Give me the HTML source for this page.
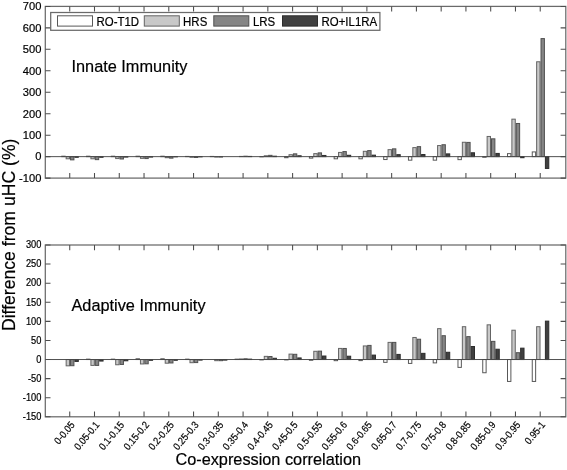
<!DOCTYPE html><html><head><meta charset="utf-8"><style>html,body{margin:0;padding:0;background:#fff;overflow:hidden}svg{display:block;filter:grayscale(1)}text{font-family:"Liberation Sans",sans-serif;fill:#000}</style></head><body>
<svg width="567" height="470" viewBox="0 0 567 470">
<rect width="567" height="470" fill="#fff"/>
<rect x="61.78" y="156.21" width="3.38" height="0.43" fill="#ffffff" stroke="#585858" stroke-width="1"/>
<rect x="66.16" y="156.64" width="3.38" height="2.15" fill="#c8c8c8" stroke="#646464" stroke-width="1"/>
<rect x="70.54" y="156.64" width="3.38" height="3.22" fill="#858585" stroke="#505050" stroke-width="1"/>
<rect x="74.92" y="156.64" width="3.38" height="0.64" fill="#404040" stroke="#2c2c2c" stroke-width="1"/>
<rect x="86.54" y="156.21" width="3.38" height="0.43" fill="#ffffff" stroke="#585858" stroke-width="1"/>
<rect x="90.92" y="156.64" width="3.38" height="2.15" fill="#c8c8c8" stroke="#646464" stroke-width="1"/>
<rect x="95.30" y="156.64" width="3.38" height="3.00" fill="#858585" stroke="#505050" stroke-width="1"/>
<rect x="99.68" y="156.64" width="3.38" height="0.64" fill="#404040" stroke="#2c2c2c" stroke-width="1"/>
<rect x="111.31" y="156.21" width="3.38" height="0.43" fill="#ffffff" stroke="#585858" stroke-width="1"/>
<rect x="115.69" y="156.64" width="3.38" height="1.93" fill="#c8c8c8" stroke="#646464" stroke-width="1"/>
<rect x="120.07" y="156.64" width="3.38" height="2.36" fill="#858585" stroke="#505050" stroke-width="1"/>
<rect x="124.45" y="156.64" width="3.38" height="0.43" fill="#404040" stroke="#2c2c2c" stroke-width="1"/>
<rect x="136.07" y="156.21" width="3.38" height="0.43" fill="#ffffff" stroke="#585858" stroke-width="1"/>
<rect x="140.45" y="156.64" width="3.38" height="1.72" fill="#c8c8c8" stroke="#646464" stroke-width="1"/>
<rect x="144.83" y="156.64" width="3.38" height="1.93" fill="#858585" stroke="#505050" stroke-width="1"/>
<rect x="149.21" y="156.64" width="3.38" height="0.43" fill="#404040" stroke="#2c2c2c" stroke-width="1"/>
<rect x="160.83" y="156.21" width="3.38" height="0.43" fill="#ffffff" stroke="#585858" stroke-width="1"/>
<rect x="165.21" y="156.64" width="3.38" height="1.07" fill="#c8c8c8" stroke="#646464" stroke-width="1"/>
<rect x="169.59" y="156.64" width="3.38" height="1.50" fill="#858585" stroke="#505050" stroke-width="1"/>
<rect x="173.97" y="156.64" width="3.38" height="0.21" fill="#404040" stroke="#2c2c2c" stroke-width="1"/>
<rect x="185.59" y="156.42" width="3.38" height="0.21" fill="#ffffff" stroke="#585858" stroke-width="1"/>
<rect x="189.97" y="156.64" width="3.38" height="0.64" fill="#c8c8c8" stroke="#646464" stroke-width="1"/>
<rect x="194.35" y="156.64" width="3.38" height="0.86" fill="#858585" stroke="#505050" stroke-width="1"/>
<rect x="198.73" y="156.64" width="3.38" height="0.21" fill="#404040" stroke="#2c2c2c" stroke-width="1"/>
<rect x="210.35" y="156.42" width="3.38" height="0.21" fill="#ffffff" stroke="#585858" stroke-width="1"/>
<rect x="214.73" y="156.64" width="3.38" height="0.43" fill="#c8c8c8" stroke="#646464" stroke-width="1"/>
<rect x="219.11" y="156.64" width="3.38" height="0.43" fill="#858585" stroke="#505050" stroke-width="1"/>
<rect x="239.50" y="156.42" width="3.38" height="0.21" fill="#c8c8c8" stroke="#646464" stroke-width="1"/>
<rect x="243.88" y="156.21" width="3.38" height="0.43" fill="#858585" stroke="#505050" stroke-width="1"/>
<rect x="248.26" y="156.42" width="3.38" height="0.21" fill="#404040" stroke="#2c2c2c" stroke-width="1"/>
<rect x="259.88" y="156.64" width="3.38" height="0.21" fill="#ffffff" stroke="#585858" stroke-width="1"/>
<rect x="264.26" y="155.78" width="3.38" height="0.86" fill="#c8c8c8" stroke="#646464" stroke-width="1"/>
<rect x="268.64" y="155.35" width="3.38" height="1.29" fill="#858585" stroke="#505050" stroke-width="1"/>
<rect x="273.02" y="156.21" width="3.38" height="0.43" fill="#404040" stroke="#2c2c2c" stroke-width="1"/>
<rect x="284.64" y="156.64" width="3.38" height="1.07" fill="#ffffff" stroke="#585858" stroke-width="1"/>
<rect x="289.02" y="154.71" width="3.38" height="1.93" fill="#c8c8c8" stroke="#646464" stroke-width="1"/>
<rect x="293.40" y="153.85" width="3.38" height="2.79" fill="#858585" stroke="#505050" stroke-width="1"/>
<rect x="297.78" y="155.78" width="3.38" height="0.86" fill="#404040" stroke="#2c2c2c" stroke-width="1"/>
<rect x="309.40" y="156.64" width="3.38" height="1.50" fill="#ffffff" stroke="#585858" stroke-width="1"/>
<rect x="313.78" y="153.63" width="3.38" height="3.00" fill="#c8c8c8" stroke="#646464" stroke-width="1"/>
<rect x="318.16" y="152.88" width="3.38" height="3.76" fill="#858585" stroke="#505050" stroke-width="1"/>
<rect x="322.54" y="155.46" width="3.38" height="1.18" fill="#404040" stroke="#2c2c2c" stroke-width="1"/>
<rect x="334.16" y="156.64" width="3.38" height="2.15" fill="#ffffff" stroke="#585858" stroke-width="1"/>
<rect x="338.54" y="152.43" width="3.38" height="4.21" fill="#c8c8c8" stroke="#646464" stroke-width="1"/>
<rect x="342.92" y="151.57" width="3.38" height="5.07" fill="#858585" stroke="#505050" stroke-width="1"/>
<rect x="347.30" y="155.29" width="3.38" height="1.35" fill="#404040" stroke="#2c2c2c" stroke-width="1"/>
<rect x="358.93" y="156.64" width="3.38" height="2.15" fill="#ffffff" stroke="#585858" stroke-width="1"/>
<rect x="363.31" y="151.31" width="3.38" height="5.32" fill="#c8c8c8" stroke="#646464" stroke-width="1"/>
<rect x="367.69" y="150.59" width="3.38" height="6.05" fill="#858585" stroke="#505050" stroke-width="1"/>
<rect x="372.07" y="155.16" width="3.38" height="1.48" fill="#404040" stroke="#2c2c2c" stroke-width="1"/>
<rect x="383.69" y="156.64" width="3.38" height="2.90" fill="#ffffff" stroke="#585858" stroke-width="1"/>
<rect x="388.07" y="149.66" width="3.38" height="6.98" fill="#c8c8c8" stroke="#646464" stroke-width="1"/>
<rect x="392.45" y="148.85" width="3.38" height="7.79" fill="#858585" stroke="#505050" stroke-width="1"/>
<rect x="396.83" y="154.66" width="3.38" height="1.97" fill="#404040" stroke="#2c2c2c" stroke-width="1"/>
<rect x="408.45" y="156.64" width="3.38" height="3.54" fill="#ffffff" stroke="#585858" stroke-width="1"/>
<rect x="412.83" y="147.62" width="3.38" height="9.01" fill="#c8c8c8" stroke="#646464" stroke-width="1"/>
<rect x="417.21" y="146.64" width="3.38" height="10.00" fill="#858585" stroke="#505050" stroke-width="1"/>
<rect x="421.59" y="154.53" width="3.38" height="2.10" fill="#404040" stroke="#2c2c2c" stroke-width="1"/>
<rect x="433.21" y="156.64" width="3.38" height="3.54" fill="#ffffff" stroke="#585858" stroke-width="1"/>
<rect x="437.59" y="145.56" width="3.38" height="11.07" fill="#c8c8c8" stroke="#646464" stroke-width="1"/>
<rect x="441.97" y="144.73" width="3.38" height="11.91" fill="#858585" stroke="#505050" stroke-width="1"/>
<rect x="446.35" y="153.89" width="3.38" height="2.75" fill="#404040" stroke="#2c2c2c" stroke-width="1"/>
<rect x="457.97" y="156.64" width="3.38" height="3.00" fill="#ffffff" stroke="#585858" stroke-width="1"/>
<rect x="462.35" y="142.26" width="3.38" height="14.38" fill="#c8c8c8" stroke="#646464" stroke-width="1"/>
<rect x="466.73" y="142.41" width="3.38" height="14.23" fill="#858585" stroke="#505050" stroke-width="1"/>
<rect x="471.11" y="152.77" width="3.38" height="3.86" fill="#404040" stroke="#2c2c2c" stroke-width="1"/>
<rect x="482.74" y="156.64" width="3.38" height="0.64" fill="#ffffff" stroke="#585858" stroke-width="1"/>
<rect x="487.12" y="136.46" width="3.38" height="20.17" fill="#c8c8c8" stroke="#646464" stroke-width="1"/>
<rect x="491.50" y="138.82" width="3.38" height="17.81" fill="#858585" stroke="#505050" stroke-width="1"/>
<rect x="495.88" y="153.42" width="3.38" height="3.22" fill="#404040" stroke="#2c2c2c" stroke-width="1"/>
<rect x="507.50" y="153.63" width="3.38" height="3.00" fill="#ffffff" stroke="#585858" stroke-width="1"/>
<rect x="511.88" y="119.16" width="3.38" height="37.47" fill="#c8c8c8" stroke="#646464" stroke-width="1"/>
<rect x="516.26" y="123.48" width="3.38" height="33.16" fill="#858585" stroke="#505050" stroke-width="1"/>
<rect x="520.64" y="156.64" width="3.38" height="1.07" fill="#404040" stroke="#2c2c2c" stroke-width="1"/>
<rect x="532.26" y="151.92" width="3.38" height="4.72" fill="#ffffff" stroke="#585858" stroke-width="1"/>
<rect x="536.64" y="61.77" width="3.38" height="94.86" fill="#c8c8c8" stroke="#646464" stroke-width="1"/>
<rect x="541.02" y="38.59" width="3.38" height="118.04" fill="#858585" stroke="#505050" stroke-width="1"/>
<rect x="545.40" y="156.64" width="3.38" height="11.80" fill="#404040" stroke="#2c2c2c" stroke-width="1"/>
<line x1="45.3" y1="156.64" x2="565.8" y2="156.64" stroke="#484848" stroke-width="0.95"/>
<rect x="45.3" y="6.4" width="520.50" height="171.70" fill="none" stroke="#6a6a6a" stroke-width="1.25"/>
<text transform="translate(41.40,181.94) rotate(0) scale(0.97,1)" font-size="11.5" text-anchor="end" stroke="#000" stroke-width="0.2">-100</text>
<text transform="translate(41.40,160.48) rotate(0) scale(0.97,1)" font-size="11.5" text-anchor="end" stroke="#000" stroke-width="0.2">0</text>
<text transform="translate(41.40,139.01) rotate(0) scale(0.97,1)" font-size="11.5" text-anchor="end" stroke="#000" stroke-width="0.2">100</text>
<text transform="translate(41.40,117.55) rotate(0) scale(0.97,1)" font-size="11.5" text-anchor="end" stroke="#000" stroke-width="0.2">200</text>
<text transform="translate(41.40,96.09) rotate(0) scale(0.97,1)" font-size="11.5" text-anchor="end" stroke="#000" stroke-width="0.2">300</text>
<text transform="translate(41.40,74.63) rotate(0) scale(0.97,1)" font-size="11.5" text-anchor="end" stroke="#000" stroke-width="0.2">400</text>
<text transform="translate(41.40,53.17) rotate(0) scale(0.97,1)" font-size="11.5" text-anchor="end" stroke="#000" stroke-width="0.2">500</text>
<text transform="translate(41.40,31.70) rotate(0) scale(0.97,1)" font-size="11.5" text-anchor="end" stroke="#000" stroke-width="0.2">600</text>
<text transform="translate(41.40,10.24) rotate(0) scale(0.97,1)" font-size="11.5" text-anchor="end" stroke="#000" stroke-width="0.2">700</text>
<path d="M69.74 6.4v5.2M69.74 178.1v-5.2M94.50 6.4v5.2M94.50 178.1v-5.2M119.27 6.4v5.2M119.27 178.1v-5.2M144.03 6.4v5.2M144.03 178.1v-5.2M168.79 6.4v5.2M168.79 178.1v-5.2M193.55 6.4v5.2M193.55 178.1v-5.2M218.31 6.4v5.2M218.31 178.1v-5.2M243.08 6.4v5.2M243.08 178.1v-5.2M267.84 6.4v5.2M267.84 178.1v-5.2M292.60 6.4v5.2M292.60 178.1v-5.2M317.36 6.4v5.2M317.36 178.1v-5.2M342.12 6.4v5.2M342.12 178.1v-5.2M366.89 6.4v5.2M366.89 178.1v-5.2M391.65 6.4v5.2M391.65 178.1v-5.2M416.41 6.4v5.2M416.41 178.1v-5.2M441.17 6.4v5.2M441.17 178.1v-5.2M465.93 6.4v5.2M465.93 178.1v-5.2M490.70 6.4v5.2M490.70 178.1v-5.2M515.46 6.4v5.2M515.46 178.1v-5.2M540.22 6.4v5.2M540.22 178.1v-5.2M45.3 178.10h5.2M565.8 178.10h-5.2M45.3 156.64h5.2M565.8 156.64h-5.2M45.3 135.18h5.2M565.8 135.18h-5.2M45.3 113.71h5.2M565.8 113.71h-5.2M45.3 92.25h5.2M565.8 92.25h-5.2M45.3 70.79h5.2M565.8 70.79h-5.2M45.3 49.33h5.2M565.8 49.33h-5.2M45.3 27.86h5.2M565.8 27.86h-5.2M45.3 6.40h5.2M565.8 6.40h-5.2" stroke="#4c4c4c" stroke-width="1.05" fill="none"/>
<rect x="66.16" y="359.53" width="3.38" height="6.30" fill="#c8c8c8" stroke="#646464" stroke-width="1"/>
<rect x="70.54" y="359.53" width="3.38" height="6.18" fill="#858585" stroke="#505050" stroke-width="1"/>
<rect x="74.92" y="359.53" width="3.38" height="1.91" fill="#404040" stroke="#2c2c2c" stroke-width="1"/>
<rect x="86.54" y="359.15" width="3.38" height="0.38" fill="#ffffff" stroke="#585858" stroke-width="1"/>
<rect x="90.92" y="359.53" width="3.38" height="5.88" fill="#c8c8c8" stroke="#646464" stroke-width="1"/>
<rect x="95.30" y="359.53" width="3.38" height="5.88" fill="#858585" stroke="#505050" stroke-width="1"/>
<rect x="99.68" y="359.53" width="3.38" height="1.53" fill="#404040" stroke="#2c2c2c" stroke-width="1"/>
<rect x="111.31" y="359.15" width="3.38" height="0.38" fill="#ffffff" stroke="#585858" stroke-width="1"/>
<rect x="115.69" y="359.53" width="3.38" height="5.23" fill="#c8c8c8" stroke="#646464" stroke-width="1"/>
<rect x="120.07" y="359.53" width="3.38" height="4.92" fill="#858585" stroke="#505050" stroke-width="1"/>
<rect x="124.45" y="359.53" width="3.38" height="1.26" fill="#404040" stroke="#2c2c2c" stroke-width="1"/>
<rect x="136.07" y="358.77" width="3.38" height="0.76" fill="#ffffff" stroke="#585858" stroke-width="1"/>
<rect x="140.45" y="359.53" width="3.38" height="4.43" fill="#c8c8c8" stroke="#646464" stroke-width="1"/>
<rect x="144.83" y="359.53" width="3.38" height="4.28" fill="#858585" stroke="#505050" stroke-width="1"/>
<rect x="149.21" y="359.53" width="3.38" height="0.76" fill="#404040" stroke="#2c2c2c" stroke-width="1"/>
<rect x="160.83" y="358.77" width="3.38" height="0.76" fill="#ffffff" stroke="#585858" stroke-width="1"/>
<rect x="165.21" y="359.53" width="3.38" height="3.67" fill="#c8c8c8" stroke="#646464" stroke-width="1"/>
<rect x="169.59" y="359.53" width="3.38" height="3.44" fill="#858585" stroke="#505050" stroke-width="1"/>
<rect x="173.97" y="359.53" width="3.38" height="0.76" fill="#404040" stroke="#2c2c2c" stroke-width="1"/>
<rect x="185.59" y="359.15" width="3.38" height="0.38" fill="#ffffff" stroke="#585858" stroke-width="1"/>
<rect x="189.97" y="359.53" width="3.38" height="3.17" fill="#c8c8c8" stroke="#646464" stroke-width="1"/>
<rect x="194.35" y="359.53" width="3.38" height="3.05" fill="#858585" stroke="#505050" stroke-width="1"/>
<rect x="198.73" y="359.53" width="3.38" height="0.57" fill="#404040" stroke="#2c2c2c" stroke-width="1"/>
<rect x="214.73" y="359.53" width="3.38" height="1.15" fill="#c8c8c8" stroke="#646464" stroke-width="1"/>
<rect x="219.11" y="359.53" width="3.38" height="1.15" fill="#858585" stroke="#505050" stroke-width="1"/>
<rect x="223.49" y="359.53" width="3.38" height="0.57" fill="#404040" stroke="#2c2c2c" stroke-width="1"/>
<rect x="235.12" y="359.15" width="3.38" height="0.38" fill="#ffffff" stroke="#585858" stroke-width="1"/>
<rect x="239.50" y="358.96" width="3.38" height="0.57" fill="#c8c8c8" stroke="#646464" stroke-width="1"/>
<rect x="243.88" y="358.77" width="3.38" height="0.76" fill="#858585" stroke="#505050" stroke-width="1"/>
<rect x="248.26" y="359.15" width="3.38" height="0.38" fill="#404040" stroke="#2c2c2c" stroke-width="1"/>
<rect x="259.88" y="359.53" width="3.38" height="0.38" fill="#ffffff" stroke="#585858" stroke-width="1"/>
<rect x="264.26" y="356.36" width="3.38" height="3.17" fill="#c8c8c8" stroke="#646464" stroke-width="1"/>
<rect x="268.64" y="356.52" width="3.38" height="3.02" fill="#858585" stroke="#505050" stroke-width="1"/>
<rect x="273.02" y="358.27" width="3.38" height="1.26" fill="#404040" stroke="#2c2c2c" stroke-width="1"/>
<rect x="284.64" y="359.53" width="3.38" height="0.38" fill="#ffffff" stroke="#585858" stroke-width="1"/>
<rect x="289.02" y="354.11" width="3.38" height="5.42" fill="#c8c8c8" stroke="#646464" stroke-width="1"/>
<rect x="293.40" y="354.30" width="3.38" height="5.23" fill="#858585" stroke="#505050" stroke-width="1"/>
<rect x="297.78" y="357.93" width="3.38" height="1.60" fill="#404040" stroke="#2c2c2c" stroke-width="1"/>
<rect x="309.40" y="359.53" width="3.38" height="0.76" fill="#ffffff" stroke="#585858" stroke-width="1"/>
<rect x="313.78" y="351.29" width="3.38" height="8.25" fill="#c8c8c8" stroke="#646464" stroke-width="1"/>
<rect x="318.16" y="351.13" width="3.38" height="8.40" fill="#858585" stroke="#505050" stroke-width="1"/>
<rect x="322.54" y="356.02" width="3.38" height="3.51" fill="#404040" stroke="#2c2c2c" stroke-width="1"/>
<rect x="334.16" y="359.53" width="3.38" height="1.15" fill="#ffffff" stroke="#585858" stroke-width="1"/>
<rect x="338.54" y="348.42" width="3.38" height="11.11" fill="#c8c8c8" stroke="#646464" stroke-width="1"/>
<rect x="342.92" y="348.46" width="3.38" height="11.07" fill="#858585" stroke="#505050" stroke-width="1"/>
<rect x="347.30" y="356.21" width="3.38" height="3.32" fill="#404040" stroke="#2c2c2c" stroke-width="1"/>
<rect x="358.93" y="359.53" width="3.38" height="1.07" fill="#ffffff" stroke="#585858" stroke-width="1"/>
<rect x="363.31" y="345.94" width="3.38" height="13.59" fill="#c8c8c8" stroke="#646464" stroke-width="1"/>
<rect x="367.69" y="345.41" width="3.38" height="14.13" fill="#858585" stroke="#505050" stroke-width="1"/>
<rect x="372.07" y="355.10" width="3.38" height="4.43" fill="#404040" stroke="#2c2c2c" stroke-width="1"/>
<rect x="383.69" y="359.53" width="3.38" height="2.83" fill="#ffffff" stroke="#585858" stroke-width="1"/>
<rect x="388.07" y="342.39" width="3.38" height="17.14" fill="#c8c8c8" stroke="#646464" stroke-width="1"/>
<rect x="392.45" y="342.39" width="3.38" height="17.14" fill="#858585" stroke="#505050" stroke-width="1"/>
<rect x="396.83" y="354.42" width="3.38" height="5.12" fill="#404040" stroke="#2c2c2c" stroke-width="1"/>
<rect x="408.45" y="359.53" width="3.38" height="3.89" fill="#ffffff" stroke="#585858" stroke-width="1"/>
<rect x="412.83" y="337.47" width="3.38" height="22.07" fill="#c8c8c8" stroke="#646464" stroke-width="1"/>
<rect x="417.21" y="339.22" width="3.38" height="20.31" fill="#858585" stroke="#505050" stroke-width="1"/>
<rect x="421.59" y="353.35" width="3.38" height="6.18" fill="#404040" stroke="#2c2c2c" stroke-width="1"/>
<rect x="433.21" y="359.53" width="3.38" height="3.36" fill="#ffffff" stroke="#585858" stroke-width="1"/>
<rect x="437.59" y="328.65" width="3.38" height="30.89" fill="#c8c8c8" stroke="#646464" stroke-width="1"/>
<rect x="441.97" y="335.71" width="3.38" height="23.82" fill="#858585" stroke="#505050" stroke-width="1"/>
<rect x="446.35" y="352.28" width="3.38" height="7.25" fill="#404040" stroke="#2c2c2c" stroke-width="1"/>
<rect x="457.97" y="359.53" width="3.38" height="7.86" fill="#ffffff" stroke="#585858" stroke-width="1"/>
<rect x="462.35" y="326.70" width="3.38" height="32.83" fill="#c8c8c8" stroke="#646464" stroke-width="1"/>
<rect x="466.73" y="336.63" width="3.38" height="22.91" fill="#858585" stroke="#505050" stroke-width="1"/>
<rect x="471.11" y="346.51" width="3.38" height="13.02" fill="#404040" stroke="#2c2c2c" stroke-width="1"/>
<rect x="482.74" y="359.53" width="3.38" height="13.21" fill="#ffffff" stroke="#585858" stroke-width="1"/>
<rect x="487.12" y="324.83" width="3.38" height="34.70" fill="#c8c8c8" stroke="#646464" stroke-width="1"/>
<rect x="491.50" y="341.36" width="3.38" height="18.17" fill="#858585" stroke="#505050" stroke-width="1"/>
<rect x="495.88" y="349.23" width="3.38" height="10.31" fill="#404040" stroke="#2c2c2c" stroke-width="1"/>
<rect x="507.50" y="359.53" width="3.38" height="21.91" fill="#ffffff" stroke="#585858" stroke-width="1"/>
<rect x="511.88" y="330.21" width="3.38" height="29.32" fill="#c8c8c8" stroke="#646464" stroke-width="1"/>
<rect x="516.26" y="352.70" width="3.38" height="6.83" fill="#858585" stroke="#505050" stroke-width="1"/>
<rect x="520.64" y="348.16" width="3.38" height="11.38" fill="#404040" stroke="#2c2c2c" stroke-width="1"/>
<rect x="532.26" y="359.53" width="3.38" height="21.91" fill="#ffffff" stroke="#585858" stroke-width="1"/>
<rect x="536.64" y="326.70" width="3.38" height="32.83" fill="#c8c8c8" stroke="#646464" stroke-width="1"/>
<rect x="545.40" y="321.13" width="3.38" height="38.41" fill="#404040" stroke="#2c2c2c" stroke-width="1"/>
<line x1="45.3" y1="359.53" x2="565.8" y2="359.53" stroke="#484848" stroke-width="0.95"/>
<rect x="45.3" y="245.0" width="520.50" height="171.80" fill="none" stroke="#6a6a6a" stroke-width="1.25"/>
<text transform="translate(41.40,420.10) rotate(0) scale(0.93,1)" font-size="10.0" text-anchor="end" stroke="#000" stroke-width="0.2">-150</text>
<text transform="translate(41.40,401.01) rotate(0) scale(0.93,1)" font-size="10.0" text-anchor="end" stroke="#000" stroke-width="0.2">-100</text>
<text transform="translate(41.40,381.92) rotate(0) scale(0.93,1)" font-size="10.0" text-anchor="end" stroke="#000" stroke-width="0.2">-50</text>
<text transform="translate(41.40,362.83) rotate(0) scale(0.93,1)" font-size="10.0" text-anchor="end" stroke="#000" stroke-width="0.2">0</text>
<text transform="translate(41.40,343.74) rotate(0) scale(0.93,1)" font-size="10.0" text-anchor="end" stroke="#000" stroke-width="0.2">50</text>
<text transform="translate(41.40,324.66) rotate(0) scale(0.93,1)" font-size="10.0" text-anchor="end" stroke="#000" stroke-width="0.2">100</text>
<text transform="translate(41.40,305.57) rotate(0) scale(0.93,1)" font-size="10.0" text-anchor="end" stroke="#000" stroke-width="0.2">150</text>
<text transform="translate(41.40,286.48) rotate(0) scale(0.93,1)" font-size="10.0" text-anchor="end" stroke="#000" stroke-width="0.2">200</text>
<text transform="translate(41.40,267.39) rotate(0) scale(0.93,1)" font-size="10.0" text-anchor="end" stroke="#000" stroke-width="0.2">250</text>
<text transform="translate(41.40,248.30) rotate(0) scale(0.93,1)" font-size="10.0" text-anchor="end" stroke="#000" stroke-width="0.2">300</text>
<path d="M69.74 245.0v5.2M69.74 416.8v-5.2M94.50 245.0v5.2M94.50 416.8v-5.2M119.27 245.0v5.2M119.27 416.8v-5.2M144.03 245.0v5.2M144.03 416.8v-5.2M168.79 245.0v5.2M168.79 416.8v-5.2M193.55 245.0v5.2M193.55 416.8v-5.2M218.31 245.0v5.2M218.31 416.8v-5.2M243.08 245.0v5.2M243.08 416.8v-5.2M267.84 245.0v5.2M267.84 416.8v-5.2M292.60 245.0v5.2M292.60 416.8v-5.2M317.36 245.0v5.2M317.36 416.8v-5.2M342.12 245.0v5.2M342.12 416.8v-5.2M366.89 245.0v5.2M366.89 416.8v-5.2M391.65 245.0v5.2M391.65 416.8v-5.2M416.41 245.0v5.2M416.41 416.8v-5.2M441.17 245.0v5.2M441.17 416.8v-5.2M465.93 245.0v5.2M465.93 416.8v-5.2M490.70 245.0v5.2M490.70 416.8v-5.2M515.46 245.0v5.2M515.46 416.8v-5.2M540.22 245.0v5.2M540.22 416.8v-5.2M45.3 416.80h5.2M565.8 416.80h-5.2M45.3 397.71h5.2M565.8 397.71h-5.2M45.3 378.62h5.2M565.8 378.62h-5.2M45.3 359.53h5.2M565.8 359.53h-5.2M45.3 340.44h5.2M565.8 340.44h-5.2M45.3 321.36h5.2M565.8 321.36h-5.2M45.3 302.27h5.2M565.8 302.27h-5.2M45.3 283.18h5.2M565.8 283.18h-5.2M45.3 264.09h5.2M565.8 264.09h-5.2M45.3 245.00h5.2M565.8 245.00h-5.2" stroke="#4c4c4c" stroke-width="1.05" fill="none"/>
<rect x="50.7" y="12.5" width="329.2" height="17.8" fill="#fff" stroke="#6a6a6a" stroke-width="1.25"/>
<rect x="57.5" y="15.8" width="35" height="10.3" fill="#ffffff" stroke="#585858" stroke-width="1"/>
<text transform="translate(96.50,25.50) rotate(0) scale(0.955,1)" font-size="12.0" text-anchor="start" stroke="#000" stroke-width="0.2">RO-T1D</text>
<rect x="144.3" y="15.8" width="35" height="10.3" fill="#c8c8c8" stroke="#646464" stroke-width="1"/>
<text transform="translate(183.10,25.50) rotate(0) scale(0.955,1)" font-size="12.0" text-anchor="start" stroke="#000" stroke-width="0.2">HRS</text>
<rect x="213.8" y="15.8" width="35" height="10.3" fill="#858585" stroke="#505050" stroke-width="1"/>
<text transform="translate(252.90,25.50) rotate(0) scale(0.955,1)" font-size="12.0" text-anchor="start" stroke="#000" stroke-width="0.2">LRS</text>
<rect x="282.5" y="15.8" width="35" height="10.3" fill="#404040" stroke="#2c2c2c" stroke-width="1"/>
<text transform="translate(321.50,25.50) rotate(0) scale(0.955,1)" font-size="12.0" text-anchor="start" stroke="#000" stroke-width="0.2">RO+IL1RA</text>
<text transform="translate(71.50,72.40) rotate(0) scale(0.965,1)" font-size="16.9" text-anchor="start" stroke="#000" stroke-width="0.2">Innate Immunity</text>
<text transform="translate(71.50,311.00) rotate(0) scale(0.965,1)" font-size="16.9" text-anchor="start" stroke="#000" stroke-width="0.2">Adaptive Immunity</text>
<text transform="translate(268.20,465.40) rotate(0) scale(0.982,1)" font-size="16.6" text-anchor="middle" stroke="#000" stroke-width="0.2">Co-expression correlation</text>
<text transform="translate(14.80,234.80) rotate(-90) scale(0.968,1)" font-size="18.2" text-anchor="middle" stroke="#000" stroke-width="0.2">Difference from uHC (%)</text>
<text transform="translate(75.34,425.20) rotate(-50) scale(0.89,1)" font-size="10.2" text-anchor="end" stroke="#000" stroke-width="0.2">0-0.05</text>
<text transform="translate(100.10,425.20) rotate(-50) scale(0.89,1)" font-size="10.2" text-anchor="end" stroke="#000" stroke-width="0.2">0.05-0.1</text>
<text transform="translate(124.87,425.20) rotate(-50) scale(0.89,1)" font-size="10.2" text-anchor="end" stroke="#000" stroke-width="0.2">0.1-0.15</text>
<text transform="translate(149.63,425.20) rotate(-50) scale(0.89,1)" font-size="10.2" text-anchor="end" stroke="#000" stroke-width="0.2">0.15-0.2</text>
<text transform="translate(174.39,425.20) rotate(-50) scale(0.89,1)" font-size="10.2" text-anchor="end" stroke="#000" stroke-width="0.2">0.2-0.25</text>
<text transform="translate(199.15,425.20) rotate(-50) scale(0.89,1)" font-size="10.2" text-anchor="end" stroke="#000" stroke-width="0.2">0.25-0.3</text>
<text transform="translate(223.91,425.20) rotate(-50) scale(0.89,1)" font-size="10.2" text-anchor="end" stroke="#000" stroke-width="0.2">0.3-0.35</text>
<text transform="translate(248.68,425.20) rotate(-50) scale(0.89,1)" font-size="10.2" text-anchor="end" stroke="#000" stroke-width="0.2">0.35-0.4</text>
<text transform="translate(273.44,425.20) rotate(-50) scale(0.89,1)" font-size="10.2" text-anchor="end" stroke="#000" stroke-width="0.2">0.4-0.45</text>
<text transform="translate(298.20,425.20) rotate(-50) scale(0.89,1)" font-size="10.2" text-anchor="end" stroke="#000" stroke-width="0.2">0.45-0.5</text>
<text transform="translate(322.96,425.20) rotate(-50) scale(0.89,1)" font-size="10.2" text-anchor="end" stroke="#000" stroke-width="0.2">0.5-0.55</text>
<text transform="translate(347.72,425.20) rotate(-50) scale(0.89,1)" font-size="10.2" text-anchor="end" stroke="#000" stroke-width="0.2">0.55-0.6</text>
<text transform="translate(372.49,425.20) rotate(-50) scale(0.89,1)" font-size="10.2" text-anchor="end" stroke="#000" stroke-width="0.2">0.6-0.65</text>
<text transform="translate(397.25,425.20) rotate(-50) scale(0.89,1)" font-size="10.2" text-anchor="end" stroke="#000" stroke-width="0.2">0.65-0.7</text>
<text transform="translate(422.01,425.20) rotate(-50) scale(0.89,1)" font-size="10.2" text-anchor="end" stroke="#000" stroke-width="0.2">0.7-0.75</text>
<text transform="translate(446.77,425.20) rotate(-50) scale(0.89,1)" font-size="10.2" text-anchor="end" stroke="#000" stroke-width="0.2">0.75-0.8</text>
<text transform="translate(471.53,425.20) rotate(-50) scale(0.89,1)" font-size="10.2" text-anchor="end" stroke="#000" stroke-width="0.2">0.8-0.85</text>
<text transform="translate(496.30,425.20) rotate(-50) scale(0.89,1)" font-size="10.2" text-anchor="end" stroke="#000" stroke-width="0.2">0.85-0.9</text>
<text transform="translate(521.06,425.20) rotate(-50) scale(0.89,1)" font-size="10.2" text-anchor="end" stroke="#000" stroke-width="0.2">0.9-0.95</text>
<text transform="translate(545.82,425.20) rotate(-50) scale(0.89,1)" font-size="10.2" text-anchor="end" stroke="#000" stroke-width="0.2">0.95-1</text>
</svg></body></html>
